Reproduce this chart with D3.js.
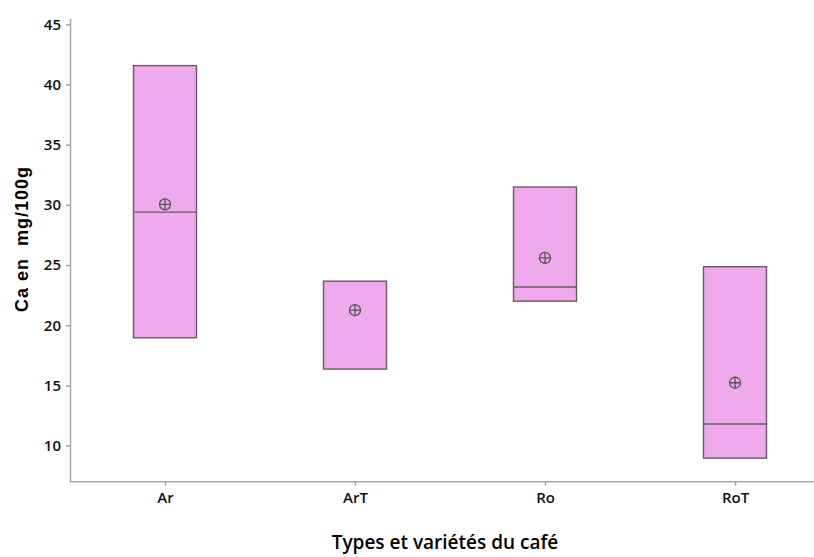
<!DOCTYPE html>
<html>
<head>
<meta charset="utf-8">
<script src="https://cdn.jsdelivr.net/npm/d3@7"></script>
<style>
  body { margin: 0; background: #fff; }
  svg { display: block; }
  .tick text { font-family: "Open Sans", "Noto Sans", sans-serif; font-weight: 600; font-size: 15px; fill: #111; }
</style>
</head>
<body>
<div id="d3"></div>
<script>
// categories and box values (mg/100g)
var categories = ["Ar", "ArT", "Ro", "RoT"];
var boxLow    = [18.96, 16.36, 22.0, 8.96];
var boxHigh   = [41.57, 23.66, 31.48, 24.86];
var medians   = [29.40, null, 23.18, 11.80];
var means     = [30.04, 21.25, 25.59, 15.22];
var yTicks    = [10, 15, 20, 25, 30, 35, 40, 45];

var width = 814, height = 557;

var svg = d3.select("#d3").append("svg")
    .attr("width", width).attr("height", height);

var x = d3.scalePoint()
    .domain(categories)
    .range([70, 830])
    .padding(0.5);

var y = d3.scaleLinear()
    .domain([7, 45.5])
    .range([481.7, 18.3]);

var boxW = 63;

var data = categories.map(function(c, i){
    return { name: c, low: boxLow[i], high: boxHigh[i], med: medians[i], mean: means[i] };
});

// axes
var yAxis = svg.append("g")
    .attr("transform", "translate(70,0)")
    .call(d3.axisLeft(y).tickValues(yTicks).tickSize(4).tickPadding(5).tickSizeOuter(0));
var xAxis = svg.append("g")
    .attr("transform", "translate(0,481.7)")
    .call(d3.axisBottom(x).tickSize(4).tickPadding(5).tickSizeOuter(0));

[yAxis, xAxis].forEach(function(g){
    g.selectAll("line, path").attr("stroke", "#a6a6a6").attr("stroke-width", 1.5);
});
xAxis.select(".domain").attr("d", "M70,0H814");
xAxis.selectAll(".tick text").attr("dy", "0.85em");

// boxes
var boxes = svg.append("g").selectAll("g").data(data).enter().append("g");

boxes.append("rect")
    .attr("x", function(d){ return x(d.name) - boxW / 2; })
    .attr("y", function(d){ return y(d.high); })
    .attr("width", boxW)
    .attr("height", function(d){ return y(d.low) - y(d.high); })
    .attr("fill", "#eeaaec")
    .attr("stroke", "#665a66")
    .attr("stroke-width", 1.4);

boxes.filter(function(d){ return d.med != null; }).append("line")
    .attr("x1", function(d){ return x(d.name) - boxW / 2; })
    .attr("x2", function(d){ return x(d.name) + boxW / 2; })
    .attr("y1", function(d){ return y(d.med); })
    .attr("y2", function(d){ return y(d.med); })
    .attr("stroke", "#665a66")
    .attr("stroke-width", 1.4);

// mean symbol: circled plus
var r = 5.5;
var meanG = boxes.append("g")
    .attr("transform", function(d){ return "translate(" + x(d.name) + "," + y(d.mean) + ")"; })
    .attr("stroke", "#555")
    .attr("stroke-width", 1.3)
    .attr("fill", "none");
meanG.append("circle").attr("r", r);
meanG.append("path").attr("d", "M" + (-r) + ",0H" + r + "M0," + (-r) + "V" + r);

// axis titles
svg.append("text")
    .attr("transform", "translate(28,239) rotate(-90)")
    .attr("text-anchor", "middle")
    .style("font-family", "'Liberation Sans', Arial, sans-serif")
    .style("font-weight", "bold")
    .style("font-size", "18px")
    .style("letter-spacing", "1px")
    .style("white-space", "pre")
    .attr("xml:space", "preserve")
    .text("Ca en  mg/100g");

svg.append("text")
    .attr("x", 445)
    .attr("y", 549)
    .attr("text-anchor", "middle")
    .style("font-family", "'Open Sans', 'Noto Sans', sans-serif")
    .style("font-weight", 600)
    .style("font-size", "19px")
    .text("Types et variétés du café");
</script>
</body>
</html>
